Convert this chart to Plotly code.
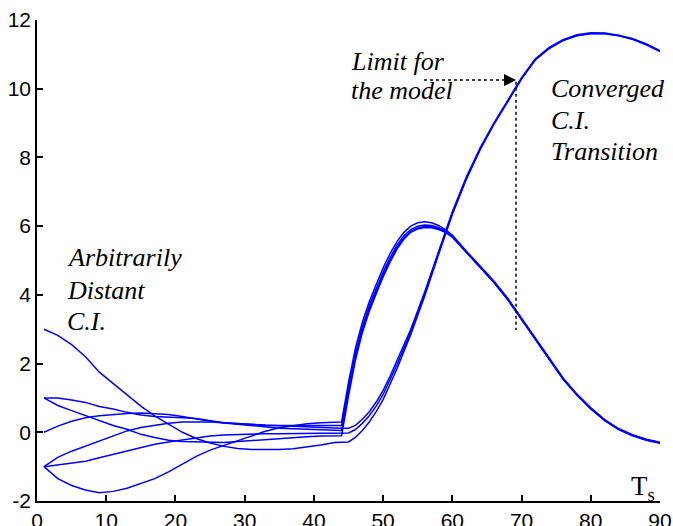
import plotly.graph_objects as go

# ---------------- data ----------------
X_PRE = [1, 3, 5, 7, 9, 11, 13, 15, 17, 19, 21, 23, 25, 27, 29, 31, 33, 35, 37, 39, 41, 43]
X_STEEP = [44, 45, 46, 47, 48, 49, 50, 51, 52, 53, 54, 55, 56, 57, 58, 59, 60,
           62, 64, 66, 68, 70, 72, 74, 76, 78, 80, 82, 84, 86, 88, 90]
X_SLOW = [44, 45, 46, 47, 48, 49, 50, 51, 52, 54, 56, 58, 60, 62, 64, 66, 68,
          70, 72, 74, 76, 78, 80, 82, 84, 86, 88, 90]

A_pre = [3.0, 2.82, 2.55, 2.2, 1.75, 1.42, 1.1, 0.76, 0.48, 0.25, 0.0, -0.18, -0.31, -0.41, -0.47, -0.5, -0.51, -0.5, -0.48, -0.43, -0.37, -0.3]
B_pre = [-1.0, -1.35, -1.55, -1.68, -1.76, -1.72, -1.63, -1.5, -1.35, -1.15, -0.93, -0.7, -0.52, -0.38, -0.24, -0.1, 0.03, 0.13, 0.2, 0.25, 0.28, 0.3]
C_pre = [1.0, 1.0, 0.94, 0.87, 0.75, 0.68, 0.58, 0.5, 0.46, 0.45, 0.42, 0.4, 0.33, 0.28, 0.25, 0.22, 0.2, 0.19, 0.17, 0.15, 0.13, 0.12]
D_pre = [1.0, 0.78, 0.63, 0.49, 0.33, 0.2, 0.09, -0.06, -0.15, -0.23, -0.27, -0.28, -0.3, -0.3, -0.27, -0.24, -0.2, -0.17, -0.15, -0.13, -0.11, -0.1]
E_pre = [0.0, 0.18, 0.32, 0.42, 0.48, 0.52, 0.55, 0.56, 0.55, 0.52, 0.46, 0.38, 0.32, 0.27, 0.23, 0.19, 0.15, 0.12, 0.1, 0.08, 0.06, 0.05]
F_pre = [-1.0, -0.73, -0.55, -0.4, -0.24, -0.1, 0.04, 0.14, 0.21, 0.26, 0.3, 0.31, 0.3, 0.28, 0.25, 0.23, 0.21, 0.2, 0.2, 0.2, 0.2, 0.2]
G_pre = [-1.0, -0.95, -0.9, -0.84, -0.74, -0.64, -0.54, -0.44, -0.35, -0.28, -0.22, -0.16, -0.11, -0.08, -0.06, -0.05, -0.04, -0.04, -0.03, -0.03, -0.03, -0.03]

B_post = [0.3, 1.45, 2.45, 3.2, 3.8, 4.3, 4.78, 5.2, 5.55, 5.82, 6.0, 6.1, 6.13, 6.1, 6.02, 5.9, 5.74, 5.28, 4.85, 4.4, 3.9, 3.32, 2.72, 2.13, 1.58, 1.11, 0.71, 0.37, 0.11, -0.07, -0.2, -0.29]
F_post = [0.2, 1.3, 2.3, 3.07, 3.68, 4.18, 4.66, 5.08, 5.45, 5.72, 5.9, 6.0, 6.03, 6.02, 5.96, 5.86, 5.71, 5.26, 4.83, 4.38, 3.88, 3.3, 2.7, 2.12, 1.56, 1.1, 0.7, 0.36, 0.1, -0.08, -0.21, -0.3]
E_post = [0.05, 1.18, 2.2, 2.98, 3.6, 4.1, 4.58, 5.0, 5.38, 5.66, 5.85, 5.95, 5.99, 5.98, 5.93, 5.84, 5.69, 5.25, 4.82, 4.37, 3.87, 3.29, 2.69, 2.11, 1.55, 1.09, 0.69, 0.35, 0.09, -0.09, -0.22, -0.31]
D_post = [-0.1, 1.05, 2.1, 2.9, 3.52, 4.03, 4.52, 4.95, 5.33, 5.62, 5.82, 5.92, 5.96, 5.95, 5.9, 5.82, 5.68, 5.24, 4.81, 4.36, 3.86, 3.28, 2.68, 2.1, 1.54, 1.08, 0.68, 0.34, 0.08, -0.1, -0.23, -0.32]

C_post = [0.12, 0.12, 0.2, 0.38, 0.6, 0.88, 1.22, 1.63, 2.07, 3.0, 4.08, 5.28, 6.42, 7.42, 8.27, 9.0, 9.66, 10.32, 10.87, 11.2, 11.43, 11.57, 11.63, 11.62, 11.56, 11.46, 11.3, 11.1]
G_post = [-0.03, -0.02, 0.08, 0.26, 0.48, 0.76, 1.1, 1.52, 1.97, 2.93, 4.02, 5.22, 6.38, 7.38, 8.24, 8.98, 9.64, 10.3, 10.85, 11.18, 11.41, 11.55, 11.61, 11.61, 11.55, 11.45, 11.3, 11.1]
A_post = [-0.3, -0.28, -0.15, 0.05, 0.3, 0.6, 0.95, 1.38, 1.85, 2.85, 3.96, 5.17, 6.34, 7.35, 8.22, 8.96, 9.62, 10.28, 10.84, 11.17, 11.4, 11.54, 11.6, 11.6, 11.54, 11.44, 11.28, 11.08]

X_TICKS = [0, 10, 20, 30, 40, 50, 60, 70, 80, 90]
Y_TICKS = [-2, 0, 2, 4, 6, 8, 10, 12]
Y_TICK_TEXT = ["-2", "0", "2", "4", "6", "8", "10", "12"]

LIMIT_X = 69.2
LIMIT_Y_TOP = 10.2
LIMIT_Y_BOTTOM = 2.98
ARROW_Y = 10.25
ARROW_X_START = 55.9

# ---------------- figure ----------------
W, H = 673, 526
ML, MR, MT, MB = 37, 13, 20, 25
X_RANGE = [0, 90]
Y_RANGE = [-2, 12]

def px2x(px):
    return X_RANGE[0] + (px - ML) / (W - ML - MR) * (X_RANGE[1] - X_RANGE[0])

def py2y(py):
    return Y_RANGE[1] - (py - MT) / (H - MT - MB) * (Y_RANGE[1] - Y_RANGE[0])

BLUE = "#0000ff"
fig = go.Figure()

curves = [
    (A_pre, X_SLOW, A_post),
    (B_pre, X_STEEP, B_post),
    (C_pre, X_SLOW, C_post),
    (D_pre, X_STEEP, D_post),
    (E_pre, X_STEEP, E_post),
    (F_pre, X_STEEP, F_post),
    (G_pre, X_SLOW, G_post),
]
for pre, xpost, post in curves:
    fig.add_trace(go.Scatter(x=X_PRE + xpost, y=pre + post, mode="lines",
                             line=dict(color=BLUE, width=1.5), hoverinfo="skip",
                             showlegend=False))

# dotted limit lines
fig.add_trace(go.Scatter(x=[LIMIT_X, LIMIT_X], y=[LIMIT_Y_TOP, LIMIT_Y_BOTTOM], mode="lines",
                         line=dict(color="black", width=1.5, dash="dot"), showlegend=False))
fig.add_trace(go.Scatter(x=[ARROW_X_START, LIMIT_X - 0.8], y=[ARROW_Y, ARROW_Y], mode="lines",
                         line=dict(color="black", width=1.5, dash="dot"), showlegend=False))

SERIF = "Liberation Serif"
serif = dict(family=SERIF, size=26, color="black")
annos = []
def label(text, px, py):
    annos.append(dict(x=px2x(px), y=py2y(py), xref="x", yref="y", text="<i>" + text + "</i>",
                      showarrow=False, xanchor="left", yanchor="middle",
                      font=serif, borderpad=0))

label("Arbitrarily", 66, 257)
label("Distant", 66, 290)
label("C.I.", 66, 321)
label("Limit for", 350, 61)
label("the model", 350, 90)
label("Converged", 550, 88)
label("C.I.", 550, 120)
label("Transition", 550, 151)

annos.append(dict(x=LIMIT_X, y=ARROW_Y, xref="x", yref="y", text="", showarrow=True,
                  arrowhead=2, arrowsize=1.6, arrowwidth=1.5, arrowcolor="black",
                  ax=-12, ay=0))
annos.append(dict(x=(657 - ML) / (W - ML - MR), y=0, xref="paper", yref="paper",
                  text="T<sub>s</sub>", showarrow=False, xanchor="right", yanchor="bottom",
                  yshift=-6, font=dict(family=SERIF, size=27, color="black")))

tickfont = dict(family="Liberation Sans", size=21, color="black")
fig.update_layout(
    template="none",
    width=W, height=H,
    margin=dict(l=ML, r=MR, t=MT, b=MB),
    paper_bgcolor="white", plot_bgcolor="white",
    annotations=annos,
    xaxis=dict(range=X_RANGE, tickvals=X_TICKS, ticks="inside", ticklen=6, tickwidth=1.5,
               tickcolor="black", showline=True, linecolor="black", linewidth=1.5,
               showgrid=False, zeroline=False, tickfont=tickfont, automargin=False),
    yaxis=dict(range=Y_RANGE, tickvals=Y_TICKS, ticktext=Y_TICK_TEXT, ticks="inside",
               ticklen=6, tickwidth=1.5, tickcolor="black", showline=True,
               linecolor="black", linewidth=1.5, showgrid=False, zeroline=False,
               tickfont=tickfont, automargin=False),
)

fig.write_html("out.html")
